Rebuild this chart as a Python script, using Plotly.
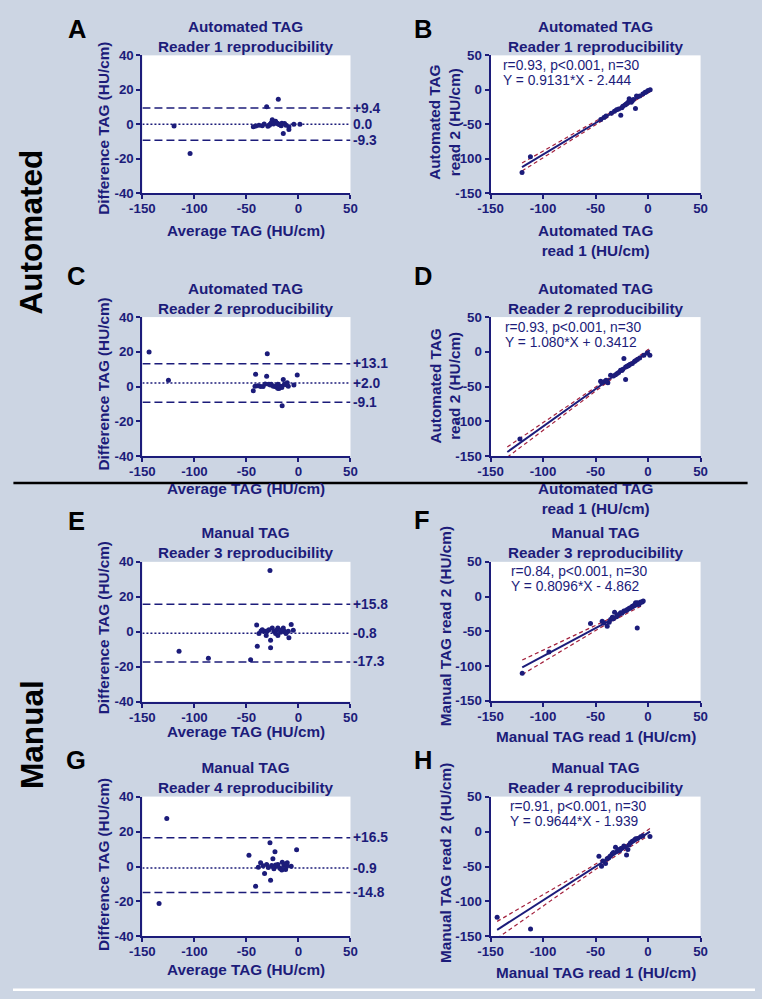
import numpy as np
import plotly.graph_objects as go

NAVY = "#1c1c7a"
RED = "#a3213d"
BG = "#ccd5e3"
FONT = "Liberation Sans, Arial, sans-serif"
W, H = 762, 999

# ---------------- data ----------------
A_avg = [-119.6, -104.2, -30.6, -19.4, -43.4, -41.0, -34.8, -29.4, -27.4, -25.2,
         -23.6, -21.0, -19.0, -16.6, -14.6, -13.4, -9.2, -9.2, -4.4, 1.4,
         -38.0, -33.0, -26.0, -22.0, -20.0, -18.0, -16.0, -12.0, -24.0, -28.0]
A_diff = [-1.0, -17.0, 10.2, 14.5, -1.5, -1.0, -0.8, -1.2, 0.0, 2.7,
          1.3, 0.8, 0.0, -0.8, -5.4, 0.4, -1.5, -3.0, 0.0, 0.0,
          -0.5, 0.2, 1.0, 1.8, 0.5, -0.3, 0.6, -0.6, 0.2, -0.5]
A_limits = [9.4, 0.0, -9.3]
A_labels = ["+9.4", "0.0", "-9.3"]

B_r1 = [-120, -112, -45, -42, -40, -35, -32, -30, -28, -26, -25, -24, -22, -21, -20,
        -19, -18, -17, -16, -15, -14, -12, -11, -10, -8, -5, -3, -2, 0, 2]
B_r2 = [-120, -97, -43, -40, -38, -34, -31, -29, -28, -37, -26, -24, -22, -21, -20,
        -18, -13, -15, -18, -16, -14, -27, -9, -10, -9, -6, -4, -3, -1, 0]
B_fit = (0.9131, -2.444)
B_text = ["r=0.93, p<0.001, n=30", "Y = 0.9131*X - 2.444"]

C_avg = [-143.6, -125.0, -30.0, -41.2, -43.4, -41.8, -36.4, -34.0, -30.6, -28.4,
         -26.2, -24.2, -22.0, -19.8, -18.8, -17.2, -15.7, -14.6, -13.4, -10.8,
         -9.8, -4.4, -1.2, -39.0, -32.0, -27.0, -21.0, -16.0, -12.0, -20.0]
C_diff = [19.9, 3.6, 18.9, 7.1, -2.5, 0.2, 0.0, 0.0, 5.9, 1.3,
          1.3, 0.2, -0.2, 1.3, -1.1, 0.2, -11.1, 4.0, 1.3, 2.1,
          0.2, 0.8, 6.7, 0.5, 1.5, 0.8, 0.5, -0.5, 1.0, -1.0]
C_limits = [13.1, 2.0, -9.1]
C_labels = ["+13.1", "+2.0", "-9.1"]

D_r1 = [-134, -122, -45.2, -42, -38.3, -35.7, -29.4, -26.2, -23, -21.4, -21.4, -18.3,
        -15, -10.2, -4, -0.8, 1.7, -44, -40, -33, -31, -28, -25, -24, -20, -19,
        -17, -13, -12, -8]
D_r2 = [-154, -125.6, -42.3, -43, -44.7, -33.7, -31.3, -26.6, -9.8, -40, -21.8, -19.4,
        -17, -11.2, -5, -1.7, -5, -45, -41, -35, -33, -30, -27, -25, -21, -20,
        -18, -14, -13, -9]
D_fit = (1.080, 0.3412)
D_text = ["r=0.93, p<0.001, n=30", "Y = 1.080*X + 0.3412"]

E_avg = [-27.4, -114.8, -86.6, -46.0, -39.6, -40.2, -38.0, -34.8, -32.2, -31.0,
         -28.4, -26.8, -26.8, -25.2, -23.6, -22.0, -19.8, -19.8, -17.2, -14.6,
         -13.4, -9.8, -9.2, -7.0, -5.0, -36.0, -30.0, -21.0, -16.0, -12.0]
E_diff = [35.0, -11.2, -15.1, -16.0, -8.3, 3.9, -1.0, 1.2, 0.3, -2.2,
          1.2, -4.9, -9.1, 2.2, 0.3, -1.0, 2.2, -2.2, -0.3, 2.2,
          0.3, 0.3, -3.4, 4.1, 0.9, 0.5, 0.5, 0.8, 1.0, -1.0]
E_limits = [15.8, -0.8, -17.3]
E_labels = ["+15.8", "-0.8", "-17.3"]

F_r1 = [-119.8, -94.4, -54.8, -10.3, -43.7, -38.9, -35.7, -31.9, -29.4, -26.2,
        -23, -19.8, -16.7, -11.9, -8.7, -5.6, -4.6, -42, -37, -34, -33, -28,
        -25, -21, -18, -15, -13, -10, -7, -30]
F_r2 = [-110.4, -80, -38.9, -45.2, -35.5, -42.8, -33, -22.5, -27.3, -23.4,
        -21, -18.6, -16.2, -8.9, -11.4, -8, -6.5, -38, -37, -30, -32, -26,
        -24, -20, -17, -14, -12, -9, -8, -29]
F_fit = (0.8096, -4.862)
F_text = ["r=0.84, p<0.001, n=30", "Y = 0.8096*X - 4.862"]

G_avg = [-126.6, -134.0, -47.6, -41.2, -38.6, -36.4, -32.6, -30.6, -27.4, -26.8,
         -25.8, -24.6, -23.6, -22.6, -21.0, -19.8, -17.2, -15.6, -14.0, -12.4,
         -10.8, -7.0, -1.8, -34.0, -29.0, -22.0, -18.0, -13.0, -11.0, -16.0]
G_diff = [27.4, -21.2, 6.5, -11.3, -0.4, 2.1, -4.0, 1.1, 13.6, -7.8,
          0.6, 4.4, -1.3, 8.4, 0.2, 1.1, -1.3, 2.5, 0.6, -1.7,
          2.1, 0.2, 9.6, 0.5, -0.5, 0.8, -0.8, 1.5, 0.5, -2.0]
G_limits = [16.5, -0.9, -14.8]
G_labels = ["+16.5", "-0.9", "-14.8"]

H_r1 = [-143.7, -111.9, -46.8, -44.3, -40.5, -37.3, -34.1, -31, -29.4, -26.2,
        -23, -20.5, -19.2, -16.7, -11.9, -7.1, 1.8, -43, -39, -36, -33, -28,
        -25, -22, -18, -15, -13, -10, -5, -27]
H_r2 = [-122.7, -139.5, -35.2, -49.5, -45.7, -37.6, -31.8, -22.3, -28, -24.6,
        -20.8, -33.7, -25.6, -16, -10.3, -7.4, -7, -42, -39, -35, -30, -26,
        -24, -22, -19, -14, -12, -10, -6, -27]
H_fit = (0.9644, -1.939)
H_text = ["r=0.91, p<0.001, n=30", "Y = 0.9644*X - 1.939"]

X_TICKS = [-150, -100, -50, 0, 50]
BA_Y_TICKS = [-40, -20, 0, 20, 40]
SC_Y_TICKS = [-150, -100, -50, 0, 50]

AUTO_T1 = "Automated TAG<br>Reader 1 reproducibility"
AUTO_T2 = "Automated TAG<br>Reader 2 reproducibility"
MAN_T3 = "Manual TAG<br>Reader 3 reproducibility"
MAN_T4 = "Manual TAG<br>Reader 4 reproducibility"

panels = [
    dict(letter="A", kind="ba", x=A_avg, y=A_diff, lim=A_limits, lab=A_labels, title=AUTO_T1,
         box=(142, 350, 55, 193), let=(77, 29), xt=(246, 230, "Average TAG (HU/cm)"),
         yt=(103, 128, "Difference TAG (HU/cm)")),
    dict(letter="B", kind="sc", x=B_r1, y=B_r2, fit=B_fit, txt=B_text, title=AUTO_T1,
         box=(490, 700, 55, 193), let=(422, 29), xt=(595, 240, "Automated TAG<br>read 1 (HU/cm)"),
         yt=(444, 122, "Automated TAG<br>read 2 (HU/cm)"), toff=(10, 10)),
    dict(letter="C", kind="ba", x=C_avg, y=C_diff, lim=C_limits, lab=C_labels, title=AUTO_T2,
         box=(142, 350, 317, 456), let=(76, 276), xt=(246, 489, "Average TAG (HU/cm)"),
         yt=(103, 384, "Difference TAG (HU/cm)")),
    dict(letter="D", kind="sc", x=D_r1, y=D_r2, fit=D_fit, txt=D_text, title=AUTO_T2,
         box=(490, 700, 317, 456), let=(422, 276), xt=(595, 499, "Automated TAG<br>read 1 (HU/cm)"),
         yt=(444, 386, "Automated TAG<br>read 2 (HU/cm)"), toff=(12, 10)),
    dict(letter="E", kind="ba", x=E_avg, y=E_diff, lim=E_limits, lab=E_labels, title=MAN_T3,
         box=(142, 350, 562, 702), let=(76, 521), xt=(246, 732, "Average TAG (HU/cm)"),
         yt=(103, 628, "Difference TAG (HU/cm)")),
    dict(letter="F", kind="sc", x=F_r1, y=F_r2, fit=F_fit, txt=F_text, title=MAN_T3,
         box=(490, 700, 562, 701), let=(421, 520), xt=(595, 737, "Manual TAG read 1 (HU/cm)"),
         yt=(445, 627, "Manual TAG read 2 (HU/cm)"), toff=(18, 10)),
    dict(letter="G", kind="ba", x=G_avg, y=G_diff, lim=G_limits, lab=G_labels, title=MAN_T4,
         box=(142, 350, 797, 937), let=(76, 760), xt=(246, 970, "Average TAG (HU/cm)"),
         yt=(103, 865, "Difference TAG (HU/cm)")),
    dict(letter="H", kind="sc", x=H_r1, y=H_r2, fit=H_fit, txt=H_text, title=MAN_T4,
         box=(490, 700, 797, 937), let=(422, 760), xt=(595, 973, "Manual TAG read 1 (HU/cm)"),
         yt=(445, 864, "Manual TAG read 2 (HU/cm)"), toff=(17, 10)),
]

# The photographed page is slightly shrunk and offset; positions above are in the
# reference picture's pixels and are converted to page fractions here.
OX, SX, OY, SY = 12.6, 0.9735, 6.6, 0.986
FS = 1.02  # font compensation


def px(x):
    return ((x - OX) / SX) / W


def py(y):
    return 1 - ((y - OY) / SY) / H


def fs(v):
    return round(v * FS, 1)


fig = go.Figure()
annotations = []
shapes = []
layout = {}

for i, p in enumerate(panels, start=1):
    sfx = "" if i == 1 else str(i)
    xa, ya = "x" + sfx, "y" + sfx
    x0, x1, y0, y1 = p["box"]
    ba = p["kind"] == "ba"
    yticks = BA_Y_TICKS if ba else SC_Y_TICKS
    common = dict(showline=True, linecolor=NAVY, linewidth=2, ticks="outside", ticklen=4,
                  tickwidth=2, tickcolor=NAVY, showgrid=False, zeroline=False,
                  tickfont=dict(family=FONT, size=fs(13), color=NAVY, weight="bold"))
    layout["xaxis" + sfx] = dict(domain=[px(x0), px(x1)], range=[-150, 50], anchor=ya,
                                 tickvals=X_TICKS, ticktext=[str(v) for v in X_TICKS],
                                 ticklabelstandoff=-2, **common)
    layout["yaxis" + sfx] = dict(domain=[py(y1), py(y0)], range=[yticks[0], yticks[-1]], anchor=xa,
                                 tickvals=yticks, ticktext=[str(v) for v in yticks], **common)

    if ba:
        for v, lab, dash in zip(p["lim"], p["lab"], ["8px,4px", "2px,2px", "8px,4px"]):
            fig.add_trace(go.Scatter(x=[-150, 50], y=[v, v], mode="lines", xaxis=xa, yaxis=ya,
                                     line=dict(color=NAVY, width=1.5, dash=dash), hoverinfo="skip"))
            annotations.append(dict(x=50, y=v, xref=xa, yref=ya, text=lab, showarrow=False,
                                    xanchor="left", yanchor="middle", xshift=1,
                                    font=dict(family=FONT, size=fs(13.5), color=NAVY, weight="bold")))
    else:
        xs = np.array(p["x"], float)
        ys = np.array(p["y"], float)
        b, a = p["fit"]
        n = len(xs)
        res = ys - (a + b * xs)
        s = np.sqrt(np.sum(res ** 2) / (n - 2))
        xbar = xs.mean()
        sxx = np.sum((xs - xbar) ** 2)
        xx = np.linspace(xs.min(), xs.max(), 60)
        yy = a + b * xx
        half = 2.048 * s * np.sqrt(1 / n + (xx - xbar) ** 2 / sxx)
        for band in (yy + half, yy - half):
            fig.add_trace(go.Scatter(x=xx, y=band, mode="lines", xaxis=xa, yaxis=ya,
                                     line=dict(color=RED, width=1.2, dash="4px,3px"), hoverinfo="skip"))
        fig.add_trace(go.Scatter(x=xx, y=yy, mode="lines", xaxis=xa, yaxis=ya,
                                 line=dict(color=NAVY, width=2), hoverinfo="skip"))
        dx, dy = p["toff"]
        for k, t in enumerate(p["txt"]):
            annotations.append(dict(x=px(x0 + dx), y=py(y0 + dy + 15 * k), xref="paper", yref="paper",
                                    text=t, showarrow=False, xanchor="left", yanchor="middle",
                                    font=dict(family=FONT, size=fs(13.5), color=NAVY)))

    fig.add_trace(go.Scatter(x=p["x"], y=p["y"], mode="markers", xaxis=xa, yaxis=ya,
                             marker=dict(color=NAVY, size=5), cliponaxis=True))

    annotations.append(dict(x=px((x0 + x1) / 2), y=py(y0 - 19), xref="paper", yref="paper",
                            text=p["title"], showarrow=False, xanchor="center", yanchor="middle",
                            font=dict(family=FONT, size=fs(15), color=NAVY, weight="bold")))
    lx, ly = p["let"]
    annotations.append(dict(x=px(lx), y=py(ly), xref="paper", yref="paper", text=p["letter"],
                            showarrow=False, xanchor="center", yanchor="middle",
                            font=dict(family=FONT, size=fs(25), color="black", weight="bold")))
    tx, ty, tt = p["xt"]
    annotations.append(dict(x=px(tx), y=py(ty), xref="paper", yref="paper", text=tt,
                            showarrow=False, xanchor="center", yanchor="middle",
                            font=dict(family=FONT, size=fs(15), color=NAVY, weight="bold")))
    vx, vy, vt = p["yt"]
    annotations.append(dict(x=px(vx), y=py(vy), xref="paper", yref="paper", text=vt, textangle=-90,
                            showarrow=False, xanchor="center", yanchor="middle",
                            font=dict(family=FONT, size=fs(15), color=NAVY, weight="bold")))

for txt, cy in (("Automated", 232), ("Manual", 735)):
    annotations.append(dict(x=px(31), y=py(cy), xref="paper", yref="paper", text=txt, textangle=-90,
                            showarrow=False, xanchor="center", yanchor="middle",
                            font=dict(family=FONT, size=fs(31), color="black", weight="bold")))

# white strip at the bottom and separator line
shapes.append(dict(type="rect", xref="paper", yref="paper", x0=0, x1=1, y0=0, y1=py(989),
                   fillcolor="white", line=dict(width=0), layer="below"))
shapes.append(dict(type="line", xref="paper", yref="paper", x0=max(px(13), 0), x1=px(747),
                   y0=py(483), y1=py(483), line=dict(color="black", width=2.5)))

fig.update_layout(width=W, height=H, margin=dict(l=0, r=0, t=0, b=0), showlegend=False,
                  paper_bgcolor=BG, plot_bgcolor="white", annotations=annotations, shapes=shapes,
                  font=dict(family=FONT, color=NAVY), **layout)

fig.write_html("out.html", config={"displayModeBar": False},
               post_script="document.body.style.margin='0';document.body.style.overflow='hidden';"
                           "document.documentElement.style.overflow='hidden';")
